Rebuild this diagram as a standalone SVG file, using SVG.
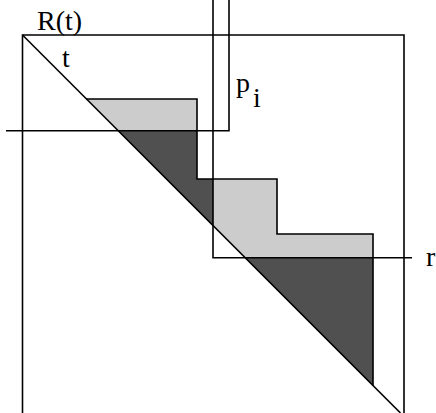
<svg xmlns="http://www.w3.org/2000/svg" width="436" height="413" viewBox="0 0 436 413">
<style>
.ln{stroke:#000;stroke-width:1.6;fill:none}
.lt{fill:#cccccc;stroke:none}
.dk{fill:#505050;stroke:none}
.tx{font-family:"Liberation Serif","Times New Roman",serif;font-size:28px;fill:#000}
</style>
<rect width="436" height="413" fill="#fff"/>
<g id="regions">
<polygon class="lt" points="86,99 197,99 197,179 277,179 277,234 373,234 373,386"/>
<polygon class="dk" points="117.7,130.7 197,130.7 197,179 213,179 213,226"/>
<polygon class="dk" points="244.7,257.7 373,257.7 373,386"/>
<polyline class="ln" points="86,99 197,99 197,179 277,179 277,234 373,234 373,386"/>
</g>
<g id="connectors">
<polyline class="ln" points="22.5,413 22.5,35 404,35 404,413"/>
<line class="ln" x1="22.5" y1="35" x2="400.5" y2="413"/>
<polyline class="ln" points="6,130.7 229,130.7 229,0"/>
<polyline class="ln" points="213,0 213,257.7 412,257.7"/>
</g>
<g id="labels">
<text class="tx" x="37" y="30">R(t)</text>
<text class="tx" x="62" y="67">t</text>
<text class="tx" x="236" y="92">p</text>
<text class="tx" x="253" y="107">i</text>
<text class="tx" x="426" y="266">r</text>
</g>
</svg>
